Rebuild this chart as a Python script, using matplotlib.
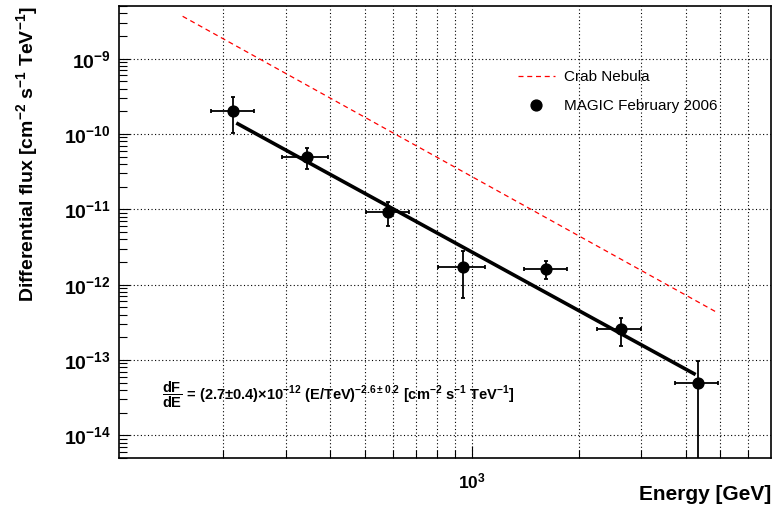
import matplotlib
matplotlib.use("Agg")
import matplotlib.pyplot as plt
from matplotlib.ticker import FixedLocator, FixedFormatter, NullFormatter
from matplotlib.lines import Line2D
import numpy as np

plt.rcParams['font.family'] = ['Liberation Sans', 'DejaVu Sans']
plt.rcParams['mathtext.fontset'] = 'custom'
plt.rcParams['mathtext.rm'] = 'Liberation Sans:bold'
plt.rcParams['mathtext.it'] = 'Liberation Sans:bold'
plt.rcParams['mathtext.bf'] = 'Liberation Sans:bold'
plt.rcParams['mathtext.sf'] = 'Liberation Sans:bold'

# ---- data ----
energy = [214, 345, 584, 945, 1621, 2624, 4341]
energy_lo = [185, 294, 504, 803, 1403, 2259, 3728]
energy_hi = [244, 395, 665, 1088, 1851, 3002, 4932]
flux = [2.04e-10, 4.97e-11, 9.35e-12, 1.71e-12, 1.61e-12, 2.60e-13, 4.9e-14]
flux_lo = [1.04e-10, 3.41e-11, 6.04e-12, 6.64e-13, 1.19e-12, 1.55e-13, 1e-15]
flux_hi = [3.07e-10, 6.6e-11, 1.27e-11, 2.76e-12, 2.07e-12, 3.6e-13, 9.8e-14]

crab_energy = [154, 4890]
crab_flux = [3.65e-9, 4.3e-13]

fit_energy = [218, 4266]
fit_flux = [1.4e-10, 6.4e-14]

ytick_vals = [1e-14, 1e-13, 1e-12, 1e-11, 1e-10, 1e-9]
ytick_labels = ['$10^{-14}$', '$10^{-13}$', '$10^{-12}$', '$10^{-11}$', '$10^{-10}$', '$10^{-9}$']
xtick_vals = [1000]
xtick_labels = ['$10^{3}$']
xminor_vals = [200, 300, 400, 500, 600, 700, 800, 900, 2000, 3000, 4000, 5000, 6000]

fig = plt.figure(figsize=(7.73, 5.09), dpi=100)
ax = fig.add_axes([119/773, 1-458/509, (771-119)/773, (458-6)/509])
ax.set_xscale('log')
ax.set_yscale('log')
ax.set_xlim(102, 6950)
ax.set_ylim(5e-15, 5e-9)

# grid
grid_kw = dict(color='black', linestyle=(0, (1, 2.2)), linewidth=0.8)
for yv in ytick_vals:
    ax.axhline(yv, zorder=0.5, **grid_kw)
for xv in xminor_vals + xtick_vals:
    ax.axvline(xv, zorder=0.5, **grid_kw)

# crab
ax.plot(crab_energy, crab_flux, color='red', linestyle=(0, (4, 3)), linewidth=0.9, zorder=2)
# fit
ax.plot(fit_energy, fit_flux, color='black', linewidth=2.6, zorder=3, solid_capstyle='butt')
# data
e = np.array(energy); f = np.array(flux)
xerr = [e - np.array(energy_lo), np.array(energy_hi) - e]
yerr = [f - np.array(flux_lo), np.array(flux_hi) - f]
ax.errorbar(e, f, xerr=xerr, yerr=yerr, fmt='o', color='black', markersize=7.8,
            elinewidth=1.3, capsize=1.5, capthick=1.3, zorder=4)

# ticks
ax.yaxis.set_major_locator(FixedLocator(ytick_vals))
ax.yaxis.set_major_formatter(FixedFormatter(ytick_labels))
ax.xaxis.set_major_locator(FixedLocator(xtick_vals))
ax.xaxis.set_major_formatter(FixedFormatter(xtick_labels))
ax.xaxis.set_minor_locator(FixedLocator(xminor_vals))
ax.xaxis.set_minor_formatter(NullFormatter())
ax.tick_params(which='both', direction='in', top=False, right=False, width=0.8)
ax.tick_params(axis='y', which='major', length=8, pad=6, labelsize=14)
ax.tick_params(axis='y', which='minor', length=6)
ax.tick_params(axis='x', which='major', length=8.5, pad=10, labelsize=12.5)
ax.tick_params(axis='x', which='minor', length=5.5)
for sp in ax.spines.values():
    sp.set_linewidth(1.2)

fig.text(771/773, 1-494/509, 'Energy [GeV]', fontsize=15, fontweight='bold',
         ha='right', va='center')
ax.set_ylabel('Differential flux [cm$^{-2}$ s$^{-1}$ TeV$^{-1}$]', fontsize=14,
              fontweight='bold', loc='top', labelpad=17)

# formula
fig.text(162/773, 1-395/509,
         r'$\dfrac{dF}{dE}$ = (2.7$\pm$0.4)$\times$10$^{-12}$ (E/TeV)$^{-2.6\pm0.2}$ [cm$^{-2}$ s$^{-1}$ TeV$^{-1}$]',
         fontsize=10.5, fontweight='bold', va='center', ha='left')

handles = [Line2D([], [], color='red', linestyle=(0, (4, 3)), linewidth=0.9),
           Line2D([], [], color='black', marker='o', linestyle='none', markersize=7.8)]
ax.legend(handles, ['Crab Nebula', 'MAGIC February 2006'], loc='upper left',
          bbox_to_anchor=(518/773, 1-70/509), bbox_transform=fig.transFigure,
          frameon=False, fontsize=11, borderpad=0, borderaxespad=0,
          handlelength=2.4, handletextpad=0.6, labelspacing=1.0)

fig.savefig('out.png', dpi=100)
